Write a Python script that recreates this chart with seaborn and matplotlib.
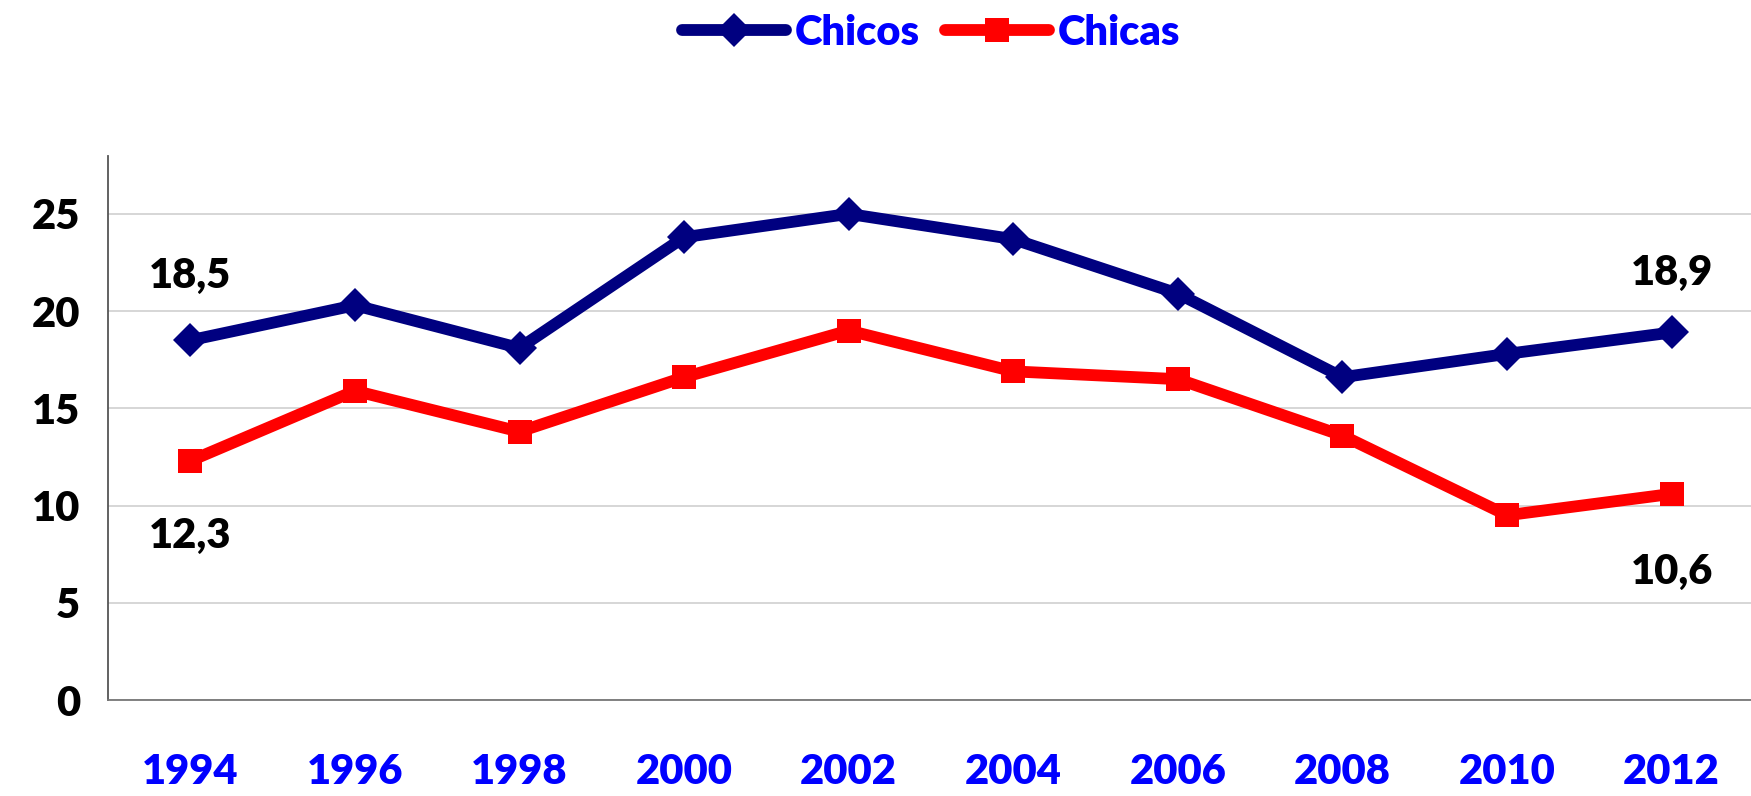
import seaborn as sns
import matplotlib.pyplot as plt
import pandas as pd

# datos
years = ['1994', '1996', '1998', '2000', '2002', '2004', '2006', '2008', '2010', '2012']
chicos = [18.5, 20.3, 18.1, 23.8, 25.0, 23.7, 20.9, 16.6, 17.8, 18.9]
chicas = [12.3, 15.9, 13.8, 16.6, 19.0, 16.9, 16.5, 13.6, 9.5, 10.6]

df = pd.DataFrame({'Año': years * 2,
                   'Valor': chicos + chicas,
                   'Grupo': ['Chicos'] * len(years) + ['Chicas'] * len(years)})

sns.set_style('white')
plt.rcParams['font.family'] = ['Lato', 'DejaVu Sans']
plt.rcParams['font.weight'] = 'heavy'
plt.rcParams['text.color'] = 'black'

fig = plt.figure(figsize=(17.51, 7.96), dpi=100)
ax = fig.add_axes([0.0617, 0.1206, 0.94, 0.684])

sns.lineplot(data=df, x='Año', y='Valor', hue='Grupo', style='Grupo',
             palette={'Chicos': '#000080', 'Chicas': '#FF0000'},
             markers={'Chicos': 'D', 'Chicas': 's'}, dashes=False,
             linewidth=8.5, markersize=17, markeredgewidth=0, ax=ax)

ax.set_ylim(0, 28)
ax.set_xlim(-0.5, 9.5)
ax.set_yticks([0, 5, 10, 15, 20, 25])
ax.set_xticks(range(len(years)))
ax.set_xticklabels(years)
ax.set_xticks([i - 0.5 for i in range(len(years) + 1)], minor=True)
ax.grid(axis='y', color='#D0D0D0', linewidth=1.2)
ax.set_axisbelow(True)
ax.set_xlabel('')
ax.set_ylabel('')

for s in ['top', 'right']:
    ax.spines[s].set_visible(False)
ax.spines['left'].set_color('#555555')
ax.spines['bottom'].set_color('#777777')
ax.spines['left'].set_linewidth(1.3)
ax.spines['bottom'].set_linewidth(1.3)

ax.tick_params(axis='y', length=10, width=1.2, color='#555555', pad=10,
               labelsize=30, labelcolor='black')
ax.tick_params(axis='x', which='major', length=0, pad=38, labelsize=30,
               labelcolor='#0000FF')
ax.tick_params(axis='x', which='minor', length=12, width=1.2, color='#555555')
for t in ax.get_xticklabels() + ax.get_yticklabels():
    t.set_fontweight('heavy')

# etiquetas de valores extremos
lab = dict(fontsize=30, fontweight='heavy', ha='center', va='center',
           textcoords='offset points', color='black')
ax.annotate('18,5', (0, chicos[0]), xytext=(0, 46), **lab)
ax.annotate('12,3', (0, chicas[0]), xytext=(0, -54), **lab)
ax.annotate('18,9', (9, chicos[-1]), xytext=(0, 43), **lab)
ax.annotate('10,6', (9, chicas[-1]), xytext=(0, -56), **lab)

ax.legend(loc='center', bbox_to_anchor=(0.5, 1.225), ncol=2, frameon=False,
          prop={'size': 30, 'weight': 'heavy'}, labelcolor='#0000FF',
          handlelength=2.5, handletextpad=0.2, columnspacing=0.6)

fig.savefig('out.png', dpi=100)
